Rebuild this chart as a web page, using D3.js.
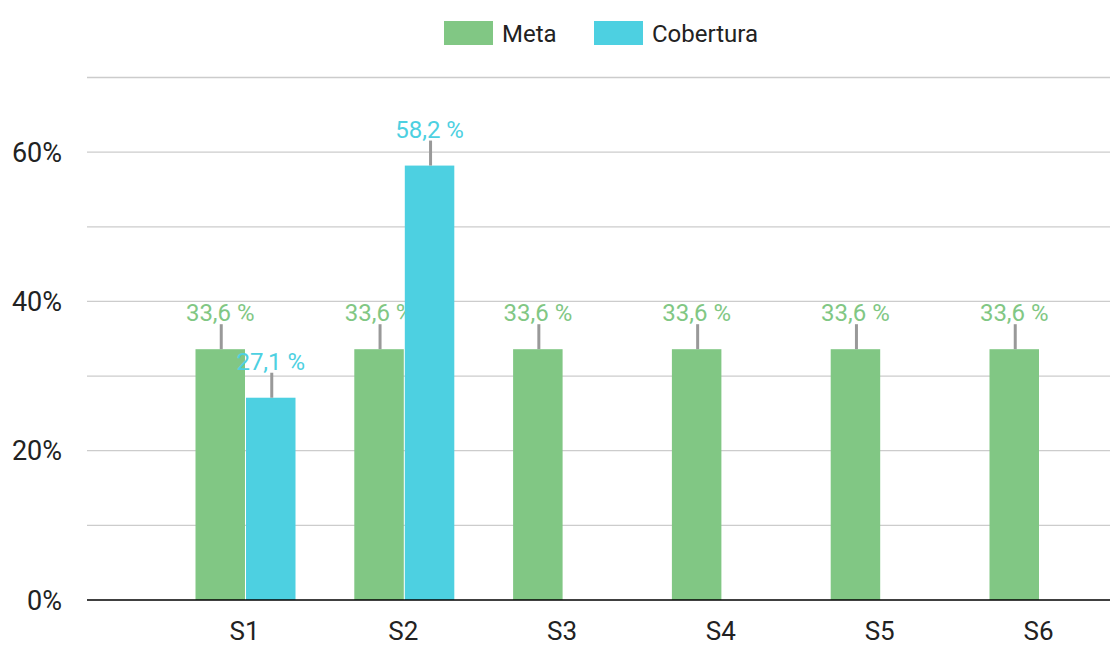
<!DOCTYPE html>
<meta charset="utf-8">
<style>
body, html {
  padding: 0;
  margin: 0;
  background: #fff;
}
text {
  font-family: Roboto, sans-serif;
}
</style>
<body>
<script src="https://d3js.org/d3.v7.min.js"></script>
<script>

var categories = ["S1", "S2", "S3", "S4", "S5", "S6"]
var seriesNames = ["Meta", "Cobertura"]
var seriesColors = ["#81c784", "#4dd0e1"]
var metaValues = [33.6, 33.6, 33.6, 33.6, 33.6, 33.6]
var coberturaValues = [27.1, 58.2, null, null, null, null]
var yTicks = [0, 20, 40, 60]
var gridTicks = [0, 10, 20, 30, 40, 50, 60, 70]

var width = 1110,
    height = 645,
    plotLeft = 87,
    plotRight = 1110,
    plotBottom = 600,
    plotTop = 77.5

var svg = d3.select("body").append("svg")
    .attr("width", width)
    .attr("height", height)

var x = d3.scalePoint()
    .domain(categories)
    .range([245.5, 1039.5])

var xs = d3.scaleBand()
    .domain(seriesNames)
    .range([-50, 50])
    .paddingInner(0.02)

var y = d3.scaleLinear()
    .domain([0, 70])
    .range([plotBottom, plotTop])

var color = d3.scaleOrdinal()
    .domain(seriesNames)
    .range(seriesColors)

// grid
svg.append("g").selectAll("line")
    .data(gridTicks.filter(function(d) { return d > 0 }))
    .enter().append("line")
    .attr("x1", plotLeft).attr("x2", plotRight)
    .attr("y1", function(d) { return y(d) }).attr("y2", function(d) { return y(d) })
    .attr("stroke", "#ccc")
    .attr("stroke-width", 1.3)

// y labels
svg.append("g").selectAll("text")
    .data(yTicks)
    .enter().append("text")
    .attr("x", 62)
    .attr("y", function(d) { return y(d) })
    .attr("dy", "0.36em")
    .attr("text-anchor", "end")
    .attr("font-size", 27)
    .attr("fill", "#222")
    .text(function(d) { return d + "%" })

var rows = []
categories.forEach(function(c, i) {
  rows.push({cat: c, name: "Meta", value: metaValues[i]})
  if (coberturaValues[i] != null) rows.push({cat: c, name: "Cobertura", value: coberturaValues[i]})
})

var bars = svg.append("g").selectAll("g")
    .data(rows)
    .enter().append("g")
    .attr("transform", function(d) { return "translate(" + (x(d.cat) + xs(d.name)) + ",0)" })

bars.append("rect")
    .attr("x", 0)
    .attr("width", xs.bandwidth())
    .attr("y", function(d) { return y(d.value) })
    .attr("height", function(d) { return y(0) - y(d.value) })
    .attr("fill", function(d) { return color(d.name) })

bars.append("line")
    .attr("x1", xs.bandwidth() / 2 + 1).attr("x2", xs.bandwidth() / 2 + 1)
    .attr("y1", function(d) { return y(d.value) })
    .attr("y2", function(d) { return y(d.value) - 25 })
    .attr("stroke", "#999")
    .attr("stroke-width", 3)

bars.append("text")
    .attr("x", xs.bandwidth() / 2)
    .attr("y", function(d) { return y(d.value) - 28 })
    .attr("text-anchor", "middle")
    .attr("font-size", 24)
    .attr("fill", function(d) { return color(d.name) })
    .text(function(d) { return d3.format(".1f")(d.value).replace(".", ",") + " %" })

// baseline
svg.append("line")
    .attr("x1", plotLeft).attr("x2", plotRight)
    .attr("y1", y(0)).attr("y2", y(0))
    .attr("stroke", "#000")
    .attr("stroke-width", 1.7)

// x labels
svg.append("g").selectAll("text")
    .data(categories)
    .enter().append("text")
    .attr("x", function(d) { return x(d) - 1 })
    .attr("y", 640)
    .attr("text-anchor", "middle")
    .attr("font-size", 26)
    .attr("fill", "#222")
    .text(function(d) { return d })

// legend
var legendX = [444, 594]
var legend = svg.append("g").selectAll("g")
    .data(seriesNames)
    .enter().append("g")
    .attr("transform", function(d, i) { return "translate(" + legendX[i] + ",21)" })

legend.append("rect")
    .attr("width", 49)
    .attr("height", 24)
    .attr("fill", function(d) { return color(d) })

legend.append("text")
    .attr("x", 58)
    .attr("y", 21)
    .attr("font-size", 24)
    .attr("fill", "#222")
    .text(function(d) { return d })

</script>
</body>
